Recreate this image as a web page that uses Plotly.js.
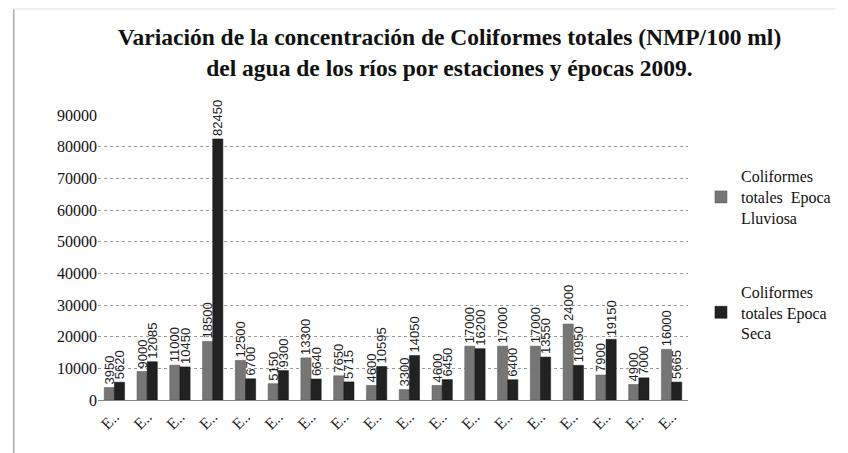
<!DOCTYPE html>
<html>
<head>
<meta charset="utf-8">
<script src="https://cdn.plot.ly/plotly-3.0.1.min.js"></script>
<style>html,body{margin:0;padding:0;background:#fff;}#chart{width:848px;height:453px;}</style>
</head>
<body>
<div id="chart"></div>
<script>
const categories = ["E1","E2","E3","E4","E5","E6","E7","E8","E9","E10","E11","E12","E13","E14","E15","E16","E17","E18"];
const tickLabels = ["E..","E..","E..","E..","E..","E..","E..","E..","E..","E..","E..","E..","E..","E..","E..","E..","E..","E.."];
const lluviosa = [3950, 9000, 11000, 18500, 12500, 5150, 13300, 7650, 4600, 3300, 4600, 17000, 17000, 17000, 24000, 7900, 4900, 16000];
const seca = [5620, 12085, 10450, 82450, 6700, 9300, 6640, 5715, 10595, 14050, 6450, 16200, 6400, 13550, 10950, 19150, 7000, 5665];
const seriesNames = ["Coliformes<br>totales  Epoca<br>Lluviosa", "Coliformes<br>totales Epoca<br>Seca"];

const serif = "Liberation Serif";
const labelFont = {family: "Liberation Sans Narrow, Arial Narrow, Liberation Sans, sans-serif", size: 13, color: "#222"};
const common = {
  type: "bar", x: categories, textposition: "outside", textangle: -90,
  cliponaxis: false, constraintext: "none", outsidetextfont: labelFont
};
const traces = [
  Object.assign({}, common, {name: seriesNames[0], y: lluviosa, text: lluviosa.map(String),
    marker: {color: "#767676", line: {color: "#555", width: 0.5}}, legendgroup: "a"}),
  Object.assign({}, common, {name: seriesNames[1], y: seca, text: seca.map(String),
    marker: {color: "#222222", line: {color: "#111", width: 0.5}}, legendgroup: "b"})
];

const layout = {
  width: 848, height: 453,
  margin: {l: 98, r: 148, t: 115, b: 53},
  paper_bgcolor: "#ffffff", plot_bgcolor: "#ffffff",
  font: {family: serif, color: "#111"},
  title: {
    text: "<b>Variación de la concentración de Coliformes totales (NMP/100 ml)<br>del agua de los ríos por estaciones y épocas 2009.</b>",
    font: {family: serif, size: 23.5, color: "#111"},
    x: 0.53, xref: "container", xanchor: "center", y: 0.9, yref: "container", yanchor: "top"
  },
  barmode: "group", bargap: 0.38, bargroupgap: 0,
  xaxis: {
    tickmode: "array", tickvals: categories, ticktext: tickLabels, tickangle: -45,
    tickfont: {family: serif, size: 16, color: "#222"},
    showline: true, linecolor: "#888", linewidth: 1, ticks: "", showgrid: false
  },
  yaxis: {
    range: [0, 90000], dtick: 10000, tickformat: "d",
    tickfont: {family: serif, size: 16, color: "#111"},
    showgrid: true, gridcolor: "#999", griddash: "dot", gridwidth: 1,
    showline: false, ticks: "", zeroline: false
  },
  showlegend: true,
  legend: {
    x: 1.022, xanchor: "left", y: 0.845, yanchor: "top",
    font: {family: serif, size: 16, color: "#111"},
    traceorder: "grouped", tracegroupgap: 50, itemwidth: 30, bgcolor: "rgba(0,0,0,0)"
  },
  shapes: [
    {type: "line", xref: "paper", yref: "paper", x0: -0.1429, x1: -0.1429, y0: -0.19, y1: 1.372,
     line: {color: "#aaa", width: 1.5}, layer: "below"},
    {type: "line", xref: "paper", yref: "paper", x0: -0.1429, x1: 1.25, y0: 1.372, y1: 1.372,
     line: {color: "#e2e2e2", width: 1}, layer: "below"}
  ]
};

Plotly.newPlot("chart", traces, layout, {displayModeBar: false, staticPlot: true});
</script>
</body>
</html>
